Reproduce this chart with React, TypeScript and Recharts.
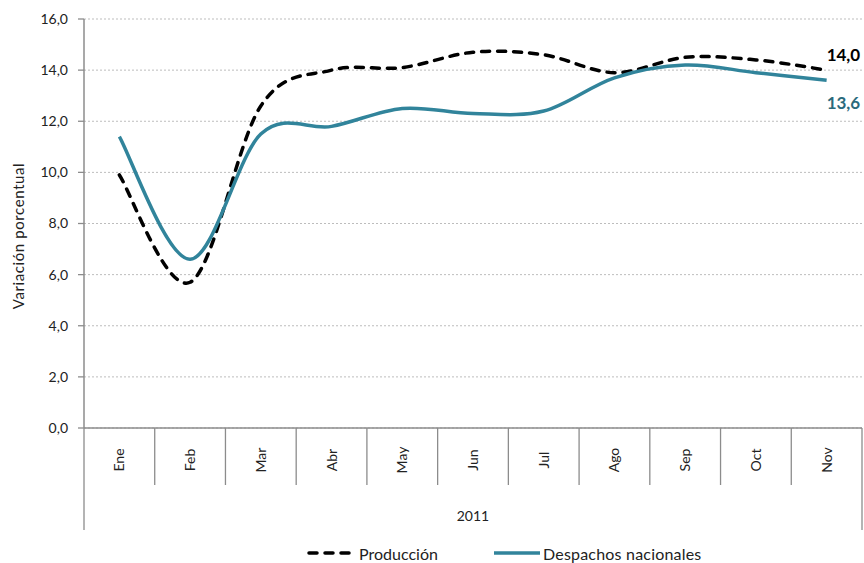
import React from 'react';
import { LineChart, Line, XAxis, YAxis, CartesianGrid } from 'recharts';

const months = ['Ene', 'Feb', 'Mar', 'Abr', 'May', 'Jun', 'Jul', 'Ago', 'Sep', 'Oct', 'Nov'];
const produccion = [9.9, 5.7, 12.6, 14.0, 14.1, 14.7, 14.6, 13.9, 14.5, 14.4, 14.0];
const despachos = [11.4, 6.6, 11.5, 11.8, 12.5, 12.3, 12.4, 13.7, 14.2, 13.9, 13.6];
const yTicks = [0, 2, 4, 6, 8, 10, 12, 14, 16];
const yearLabel = '2011';
const yTitle = 'Variación porcentual';
const seriesNames = ['Producción', 'Despachos nacionales'];

const data = months.map((m, i) => ({ month: m, prod: produccion[i], desp: despachos[i] }));

const W = 864;
const H = 563;
const MARGIN = { top: 19, right: 2, left: 0, bottom: 0 };
const Y_AXIS_W = 84;
const X_AXIS_H = 135;
const BAND = (W - MARGIN.left - MARGIN.right - Y_AXIS_W) / months.length;

const FONT = 'Lato, "Noto Sans", sans-serif';
const TEAL = '#31849B';
const GRAY = '#8c8c8c';

// Catmull-Rom style smoothing (similar to spreadsheet "smoothed line")
const smoothCurve: any = (context: any) => {
  let pts: number[][] = [];
  return {
    areaStart() {},
    areaEnd() {},
    lineStart() {
      pts = [];
    },
    point(x: number, y: number) {
      pts.push([+x, +y]);
    },
    lineEnd() {
      if (!pts.length) return;
      context.moveTo(pts[0][0], pts[0][1]);
      const t = 1 / 6;
      for (let i = 0; i < pts.length - 1; i++) {
        const p0 = pts[i - 1] || pts[i];
        const p1 = pts[i];
        const p2 = pts[i + 1];
        const p3 = pts[i + 2] || p2;
        context.bezierCurveTo(
          p1[0] + (p2[0] - p0[0]) * t,
          p1[1] + (p2[1] - p0[1]) * t,
          p2[0] - (p3[0] - p1[0]) * t,
          p2[1] - (p3[1] - p1[1]) * t,
          p2[0],
          p2[1]
        );
      }
    },
  };
};

const MonthTick = (props: any) => {
  const { x, y, payload, index } = props;
  const last = index === months.length - 1;
  const left = x - BAND / 2;
  const right = x + BAND / 2;
  const tx = x + 5;
  const ty = y + 32;
  return (
    <g>
      <line x1={left} y1={y} x2={left} y2={index === 0 ? y + 102 : y + 57} stroke={GRAY} strokeWidth={1.3} />
      {last && <line x1={right} y1={y} x2={right} y2={y + 102} stroke={GRAY} strokeWidth={1.3} />}
      <text
        x={tx}
        y={ty}
        transform={`rotate(-90, ${tx}, ${ty})`}
        textAnchor="middle"
        fontFamily={FONT}
        fontSize={14}
        fill="#222"
      >
        {payload.value}
      </text>
    </g>
  );
};

const YearLabel = (props: any) => {
  const vb = props.viewBox || {};
  const cx = vb.x + vb.width / 2;
  return (
    <text x={cx} y={vb.y + 93} textAnchor="middle" fontFamily={FONT} fontSize={14} fill="#222">
      {yearLabel}
    </text>
  );
};

const YTitle = () => (
  <text
    x={24}
    y={236}
    transform="rotate(-90, 24, 236)"
    textAnchor="middle"
    fontFamily={FONT}
    fontSize={15}
    letterSpacing={0.6}
    fill="#222"
  >
    {yTitle}
  </text>
);

const fmt = (v: number) => v.toFixed(1).replace('.', ',');

const makeEndLabel = (color: string, dy: number) => (props: any) => {
  const { x, y, index, value } = props;
  if (index !== months.length - 1) return null;
  return (
    <text x={x} y={y + dy} fontFamily={FONT} fontWeight="bold" fontSize={17} fill={color}>
      {fmt(value)}
    </text>
  );
};

export default function App() {
  return (
    <div style={{ position: 'absolute', left: 0, top: 0, width: W, height: H, background: '#fff' }}>
      <LineChart width={W} height={H} data={data} margin={MARGIN}>
        <CartesianGrid horizontal vertical={false} stroke="#bdbdbd" strokeDasharray="2 2" />
        <XAxis
          dataKey="month"
          height={X_AXIS_H}
          padding={{ left: BAND / 2, right: BAND / 2 }}
          axisLine={{ stroke: GRAY, strokeWidth: 1.5 }}
          tickLine={false}
          tickSize={0}
          tickMargin={0}
          interval={0}
          tick={<MonthTick />}
          label={<YearLabel />}
        />
        <YAxis
          width={Y_AXIS_W}
          domain={[0, 16]}
          ticks={yTicks}
          tickFormatter={fmt}
          axisLine={{ stroke: GRAY, strokeWidth: 1.5 }}
          tickLine={{ stroke: GRAY, strokeWidth: 1.3 }}
          tickSize={6}
          tickMargin={10}
          tick={{ fontFamily: FONT, fontSize: 14, fill: '#222' }}
          label={<YTitle />}
        />
        <Line
          dataKey="prod"
          name={seriesNames[0]}
          type={smoothCurve}
          stroke="#000"
          strokeWidth={3.5}
          strokeDasharray="8 8"
          strokeLinecap="round"
          dot={false}
          activeDot={false}
          isAnimationActive={false}
          label={makeEndLabel('#000', -9)}
        />
        <Line
          dataKey="desp"
          name={seriesNames[1]}
          type={smoothCurve}
          stroke={TEAL}
          strokeWidth={3.5}
          dot={false}
          activeDot={false}
          isAnimationActive={false}
          label={makeEndLabel('#2B6A7C', 29)}
        />
      </LineChart>
      <div
        style={{
          position: 'absolute',
          top: 542,
          left: 306,
          display: 'flex',
          alignItems: 'center',
          fontFamily: FONT,
          fontSize: 16,
          color: '#222',
          whiteSpace: 'nowrap',
          height: 22,
        }}
      >
        <svg width={46} height={22}>
          <line x1={3} y1={11} x2={43} y2={11} stroke="#000" strokeWidth={3.5} strokeDasharray="8 8" strokeLinecap="round" />
        </svg>
        <span style={{ marginLeft: 7, width: 134 }}>{seriesNames[0]}</span>
        <svg width={48} height={22}>
          <line x1={1} y1={11} x2={47} y2={11} stroke={TEAL} strokeWidth={3.5} />
        </svg>
        <span style={{ marginLeft: 2, letterSpacing: 0.2 }}>{seriesNames[1]}</span>
      </div>
    </div>
  );
}
